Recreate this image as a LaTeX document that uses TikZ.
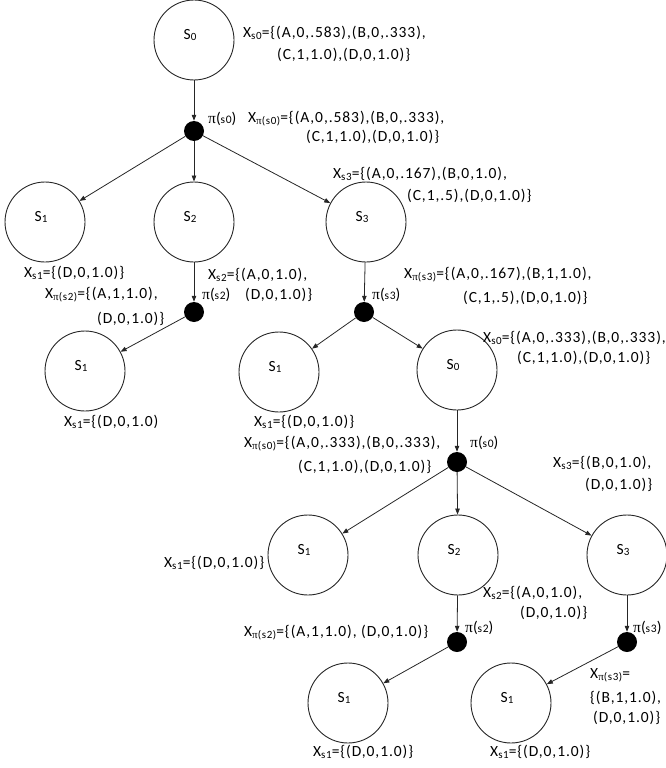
\documentclass[tikz,border=0pt]{standalone}
\usepackage{fontspec}
\setmainfont{Carlito}[LetterSpace=6]
\newfontfamily\pifont{Liberation Serif}
\usetikzlibrary{arrows.meta}
\newcommand\lbsize{\fontsize{15.5}{18}\selectfont}
\newcommand\sbs[1]{\raisebox{-0.25ex}{\fontsize{11}{11}\selectfont #1}}
\newcommand\sbn[1]{{\fontsize{11.5}{11.5}\selectfont #1}}
\newcommand\pis{{\pifont π}}
\newcommand\Xs[1]{X\sbs{#1}}
\newcommand\Xp[1]{X\sbs{\pis(s#1)}}
\newcommand\pil[1]{\pis(\sbn{s#1})}
\newcommand\stl[1]{S\sbs{#1}}
\begin{document}
\begin{tikzpicture}[x=1pt,y=-1pt,
  stt/.style={circle, draw=black!85, line width=0.9pt, minimum size=80pt, inner sep=0pt},
  dtt/.style={circle, fill=black, minimum size=20pt, inner sep=0pt},
  ar/.style={-{Triangle[length=6pt,width=4.5pt]}, line width=0.8pt, draw=black!85},
  lb/.style={anchor=west, inner sep=0pt, font=\lbsize},
  sl/.style={font=\lbsize, inner sep=0pt}]
\useasboundingbox (0,0) rectangle (665,768);
% states
\node[stt] (s0a) at (194,40) {};
\node[dtt] (d0a) at (194,131) {};
\node[stt] (s1a) at (45,222) {};
\node[stt] (s2a) at (194,222) {};
\node[stt] (s3a) at (366,222) {};
\node[dtt] (d2a) at (194,312) {};
\node[dtt] (d3a) at (364,312) {};
\node[stt] (s1b) at (85,371) {};
\node[stt] (s1c) at (279,372) {};
\node[stt] (s0b) at (457,370) {};
\node[dtt] (d0b) at (457,462) {};
\node[stt] (s1d) at (308,555) {};
\node[stt] (s2b) at (458,555) {};
\node[stt] (s3b) at (627,555) {};
\node[dtt] (d2b) at (457,642) {};
\node[dtt] (d3b) at (627,642) {};
\node[stt] (s1e) at (348,703) {};
\node[stt] (s1f) at (511,703) {};
% state names
\foreach \n/\t in {s0a/0,s1a/1,s2a/2,s3a/3,s1b/1,s1c/1,s0b/0,s1d/1,s2b/2,s3b/3,s1e/1,s1f/1}
  \node[sl] (l\n) at ([shift={(-4,-5)}]\n.center) {\stl{\t}};
% connectors
\draw[ar] (s0a) -- (d0a);
\draw[ar] (d0a) -- (s1a);
\draw[ar] (d0a) -- (s2a);
\draw[ar] (d0a) -- (s3a);
\draw[ar] (s2a) -- (d2a);
\draw[ar] (d2a) -- (s1b);
\draw[ar] (s3a) -- (d3a);
\draw[ar] (d3a) -- (s1c);
\draw[ar] (d3a) -- (s0b);
\draw[ar] (s0b) -- (d0b);
\draw[ar] (d0b) -- (s1d);
\draw[ar] (d0b) -- (s2b);
\draw[ar] (d0b) -- (s3b);
\draw[ar] (s2b) -- (d2b);
\draw[ar] (d2b) -- (s1e);
\draw[ar] (s3b) -- (d3b);
\draw[ar] (d3b) -- (s1f);
% labels
\node[lb] (t1) at (243,33) {\Xs{s0}=\{(A,0,.583),(B,0,.333),};
\node[lb] (t2) at (277,55) {(C,1,1.0),(D,0,1.0)\}};
\node[lb] (t3) at (208,119) {\pil{0}};
\node[lb] (t4) at (248,119) {\Xp{0}=\{(A,0,.583),(B,0,.333),};
\node[lb] (t5) at (306,137) {(C,1,1.0),(D,0,1.0)\}};
\node[lb] (t6) at (333,174) {\Xs{s3}=\{(A,0,.167),(B,0,1.0),};
\node[lb] (t7) at (407,196) {(C,1,.5),(D,0,1.0)\}};
\node[lb] (t8) at (24,273) {\Xs{s1}=\{(D,0,1.0)\}};
\node[lb] (t9) at (45,295) {\Xp{2}=\{(A,1,1.0),};
\node[lb] (t10) at (97,319) {(D,0,1.0)\}};
\node[lb] (t11) at (202,295) {\pil{2}};
\node[lb] (t12) at (208,275) {\Xs{s2}=\{(A,0,1.0),};
\node[lb] (t13) at (245,295) {(D,0,1.0)\}};
\node[lb] (t14) at (372,295) {\pil{3}};
\node[lb] (t15) at (404,275) {\Xp{3}=\{(A,0,.167),(B,1,1.0),};
\node[lb] (t16) at (463,298) {(C,1,.5),(D,0,1.0)\}};
\node[lb] (t17) at (483,338) {\Xs{s0}=\{(A,0,.333),(B,0,.333),};
\node[lb] (t18) at (517,358) {(C,1,1.0),(D,0,1.0)\}};
\node[lb] (t19) at (64,422) {\Xs{s1}=\{(D,0,1.0)};
\node[lb] (t20) at (254,422) {\Xs{s1}=\{(D,0,1.0)\}};
\node[lb] (t21) at (244,444) {\Xp{0}=\{(A,0,.333),(B,0,.333),};
\node[lb] (t22) at (298,467) {(C,1,1.0),(D,0,1.0)\}};
\node[lb] (t23) at (470,443) {\pil{0}};
\node[lb] (t24) at (553,463) {\Xs{s3}=\{(B,0,1.0),};
\node[lb] (t25) at (585,485) {(D,0,1.0)\}};
\node[lb] (t26) at (164,563) {\Xs{s1}=\{(D,0,1.0)\}};
\node[lb] (t27) at (483,593) {\Xs{s2}=\{(A,0,1.0),};
\node[lb] (t28) at (520,613) {(D,0,1.0)\}};
\node[lb] (t29) at (244,633) {\Xp{2}=\{(A,1,1.0), (D,0,1.0)\}};
\node[lb] (t30) at (465,628) {\pil{2}};
\node[lb] (t31) at (633,628) {\pil{3}};
\node[lb] (t32) at (590,675) {\Xp{3}=};
\node[lb] (t33) at (590,698) {\{(B,1,1.0),};
\node[lb] (t34) at (593,718) {(D,0,1.0)\}};
\node[lb] (t35) at (313,752) {\Xs{s1}=\{(D,0,1.0)\}};
\node[lb] (t36) at (490,752) {\Xs{s1}=\{(D,0,1.0)\}};
\end{tikzpicture}
\end{document}
